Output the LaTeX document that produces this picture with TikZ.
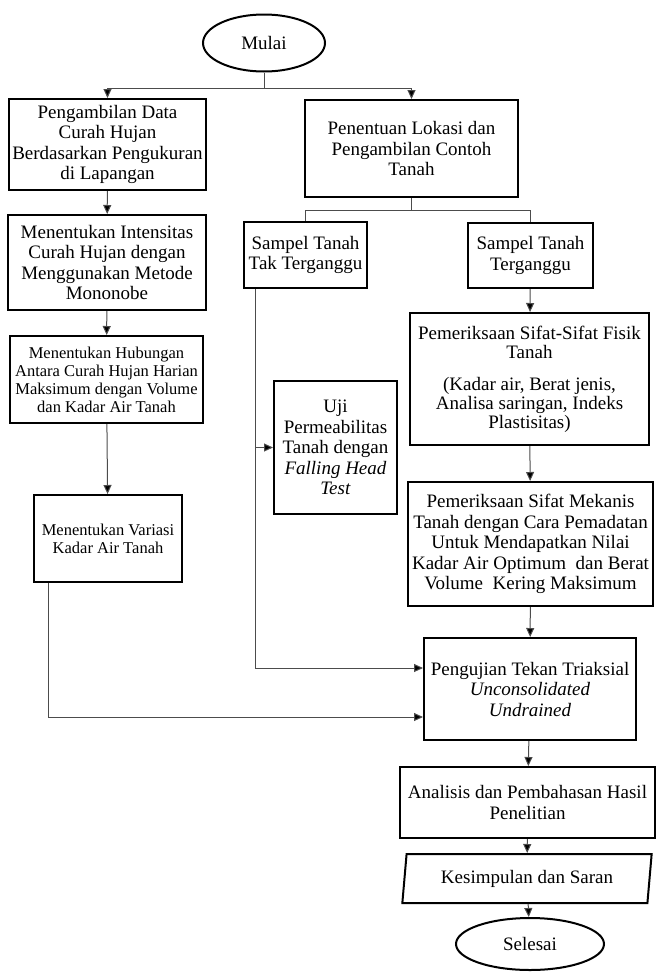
\documentclass[tikz,border=0pt]{standalone}
\usepackage{fontspec}
\setmainfont{Liberation Serif}
\usetikzlibrary{shapes.geometric,arrows.meta}

\begin{document}
\begin{tikzpicture}[x=1pt,y=-1pt,
 kotak/.style={draw,line width=2pt,inner sep=0pt,align=center,font=\fontsize{19}{20.5}\selectfont},
 kecil/.style={kotak,font=\fontsize{16.5}{18}\selectfont},
 ujung/.style={ellipse,draw,line width=2pt,inner sep=0pt,font=\fontsize{19}{20.5}\selectfont},
 garis/.style={line width=1pt,draw=black!70},
 panah/.style={garis,-{Triangle[length=9pt,width=8pt,fill=black]}}]
\useasboundingbox (0,0) rectangle (657,972);

\node[ujung,minimum width=122pt,minimum height=57pt] (mulai) at (264,43) {Mulai};
\node[kotak,minimum width=197pt,minimum height=91pt] (ambil) at (107.5,144.5)
 {Pengambilan Data\\Curah Hujan\\Berdasarkan Pengukuran\\di Lapangan};
\node[kotak,minimum width=198pt,minimum height=95pt] (intensitas) at (107,262.5)
 {Menentukan Intensitas\\Curah Hujan dengan\\Menggunakan Metode\\Mononobe};
\node[kecil,minimum width=193pt,minimum height=87pt] (hubungan) at (106.5,379.5)
 {Menentukan Hubungan\\Antara Curah Hujan Harian\\Maksimum dengan Volume\\dan Kadar Air Tanah};
\node[kecil,minimum width=148pt,minimum height=87pt] (variasi) at (108,538.5)
 {Menentukan Variasi\\Kadar Air Tanah};
\node[kotak,minimum width=213pt,minimum height=97pt] (lokasi) at (411.5,148.5)
 {Penentuan Lokasi dan\\Pengambilan Contoh\\Tanah};
\node[kotak,minimum width=123pt,minimum height=66pt] (tak) at (305.5,255)
 {Sampel Tanah\\Tak Terganggu};
\node[kotak,minimum width=125pt,minimum height=65pt] (terganggu) at (530.5,255.5)
 {Sampel Tanah\\Terganggu};
\node[kotak,minimum width=239pt,minimum height=132pt,font=\fontsize{19}{19}\selectfont] (fisik) at (529.5,379)
 {Pemeriksaan Sifat-Sifat Fisik\\Tanah\\[13pt](Kadar air, Berat jenis,\\Analisa saringan, Indeks\\Plastisitas)};
\node[kotak,minimum width=123pt,minimum height=133pt] (uji) at (335.5,447.5)
 {Uji\\Permeabilitas\\Tanah dengan\\\textit{Falling Head}\\\textit{Test}};
\node[kotak,minimum width=245pt,minimum height=124pt] (mekanis) at (530.5,544)
 {Pemeriksaan Sifat Mekanis\\Tanah dengan Cara Pemadatan\\Untuk Mendapatkan Nilai\\Kadar Air Optimum\ \ dan Berat\\Volume\ \ Kering Maksimum};
\node[kotak,minimum width=212pt,minimum height=102pt] (triaksial) at (530,689)
 {Pengujian Tekan Triaksial\\\textit{Unconsolidated}\\\textit{Undrained}};
\node[kotak,minimum width=255pt,minimum height=71pt] (analisis) at (527.5,802.5)
 {Analisis dan Pembahasan Hasil\\Penelitian};
\node[kotak,trapezium,trapezium left angle=80,trapezium right angle=100,trapezium stretches=true,
 minimum width=250pt,minimum height=49pt] (kesimpulan) at (527,878.5) {Kesimpulan dan Saran};
\node[ujung,minimum width=148pt,minimum height=52pt] (selesai) at (530,944) {Selesai};

\draw[garis] (mulai.south) -- (264,88) coordinate (c1);
\draw[panah] (c1) -| (ambil.north);
\draw[panah] (c1) -| (lokasi.north);
\draw[panah] (ambil) -- (intensitas);
\draw[panah] (intensitas) -- (hubungan);
\draw[panah] (hubungan) -- (variasi);
\draw[garis] (lokasi.south) -- (411.5,210) coordinate (c2);
\draw[garis] (c2) -| (tak.north);
\draw[garis] (c2) -| (terganggu.north);
\draw[panah] (terganggu) -- (fisik);
\draw[panah] (fisik) -- (mekanis);
\draw[panah] (mekanis) -- (triaksial);
\coordinate (tk) at ([xshift=12pt]tak.south west);
\draw[panah] (tk) |- ([yshift=21pt]triaksial.west);
\draw[panah] (tk |- uji.west) -- (uji.west);
\coordinate (vr) at ([xshift=15pt]variasi.south west);
\draw[panah] (vr) |- ([yshift=-28pt]triaksial.west);
\draw[panah] (triaksial) -- (analisis);
\draw[panah] (analisis) -- (kesimpulan);
\draw[panah] (kesimpulan) -- (selesai);
\end{tikzpicture}
\end{document}
